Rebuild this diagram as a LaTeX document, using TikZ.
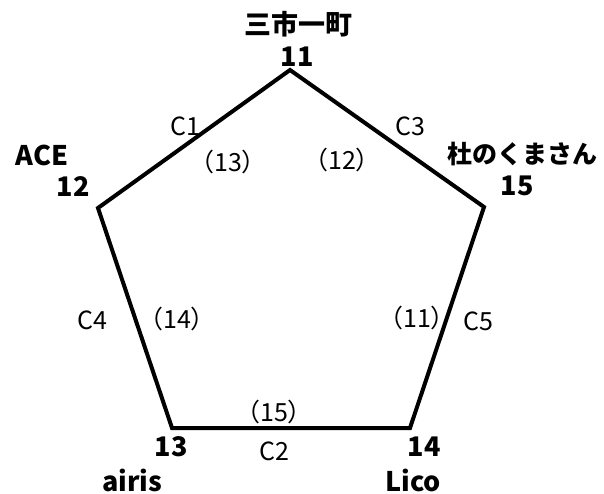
\documentclass[tikz,border=0pt]{standalone}
\usepackage{fontspec}
\setmainfont{Noto Sans CJK JP}
\begin{document}
\begin{tikzpicture}[x=1pt,y=-1pt,
  vlabel/.style={font=\fontsize{27}{29}\selectfont\bfseries, inner sep=0pt},
  elabel/.style={font=\fontsize{25}{27}\selectfont, inner sep=0pt},
  edge/.style={line width=4pt, line join=miter}]
\useasboundingbox (0,0) rectangle (604,494);
\coordinate (v11) at (290,70);
\coordinate (v12) at (98,208);
\coordinate (v13) at (172,428);
\coordinate (v14) at (410,428);
\coordinate (v15) at (484,207);
\draw[edge] (v11) -- (v15) -- (v14) -- (v13) -- (v12) -- cycle;
% vertex labels
\node[vlabel] (n11name) at (298,24) {三市一町};
\node[vlabel] (n11) at (297,57) {11};
\node[vlabel] (n12name) at (42,155) {ACE};
\node[vlabel] (n12) at (73,187) {12};
\node[vlabel, font=\fontsize{25}{27}\selectfont\bfseries] (n15name) at (522,154) {杜のくまさん};
\node[vlabel] (n15) at (517,186) {15};
\node[vlabel] (n13) at (171,447) {13};
\node[vlabel] (n13name) at (132,480) {airis};
\node[vlabel] (n14) at (424,447) {14};
\node[vlabel] (n14name) at (413,480) {Lico};
% edge labels
\node[elabel] (c1) at (185,126) {C1};
\node[elabel] (c3) at (410,126) {C3};
\node[elabel] (c4) at (92,320) {C4};
\node[elabel] (c5) at (478,321) {C5};
\node[elabel] (c2) at (274,451) {C2};
\node[elabel] (p13) at (228,162) {（13）};
\node[elabel] (p12) at (342,160) {（12）};
\node[elabel] (p14) at (177,319) {（14）};
\node[elabel] (p11) at (417,318) {（11）};
\node[elabel] (p15) at (274,412) {（15）};
\end{tikzpicture}
\end{document}
